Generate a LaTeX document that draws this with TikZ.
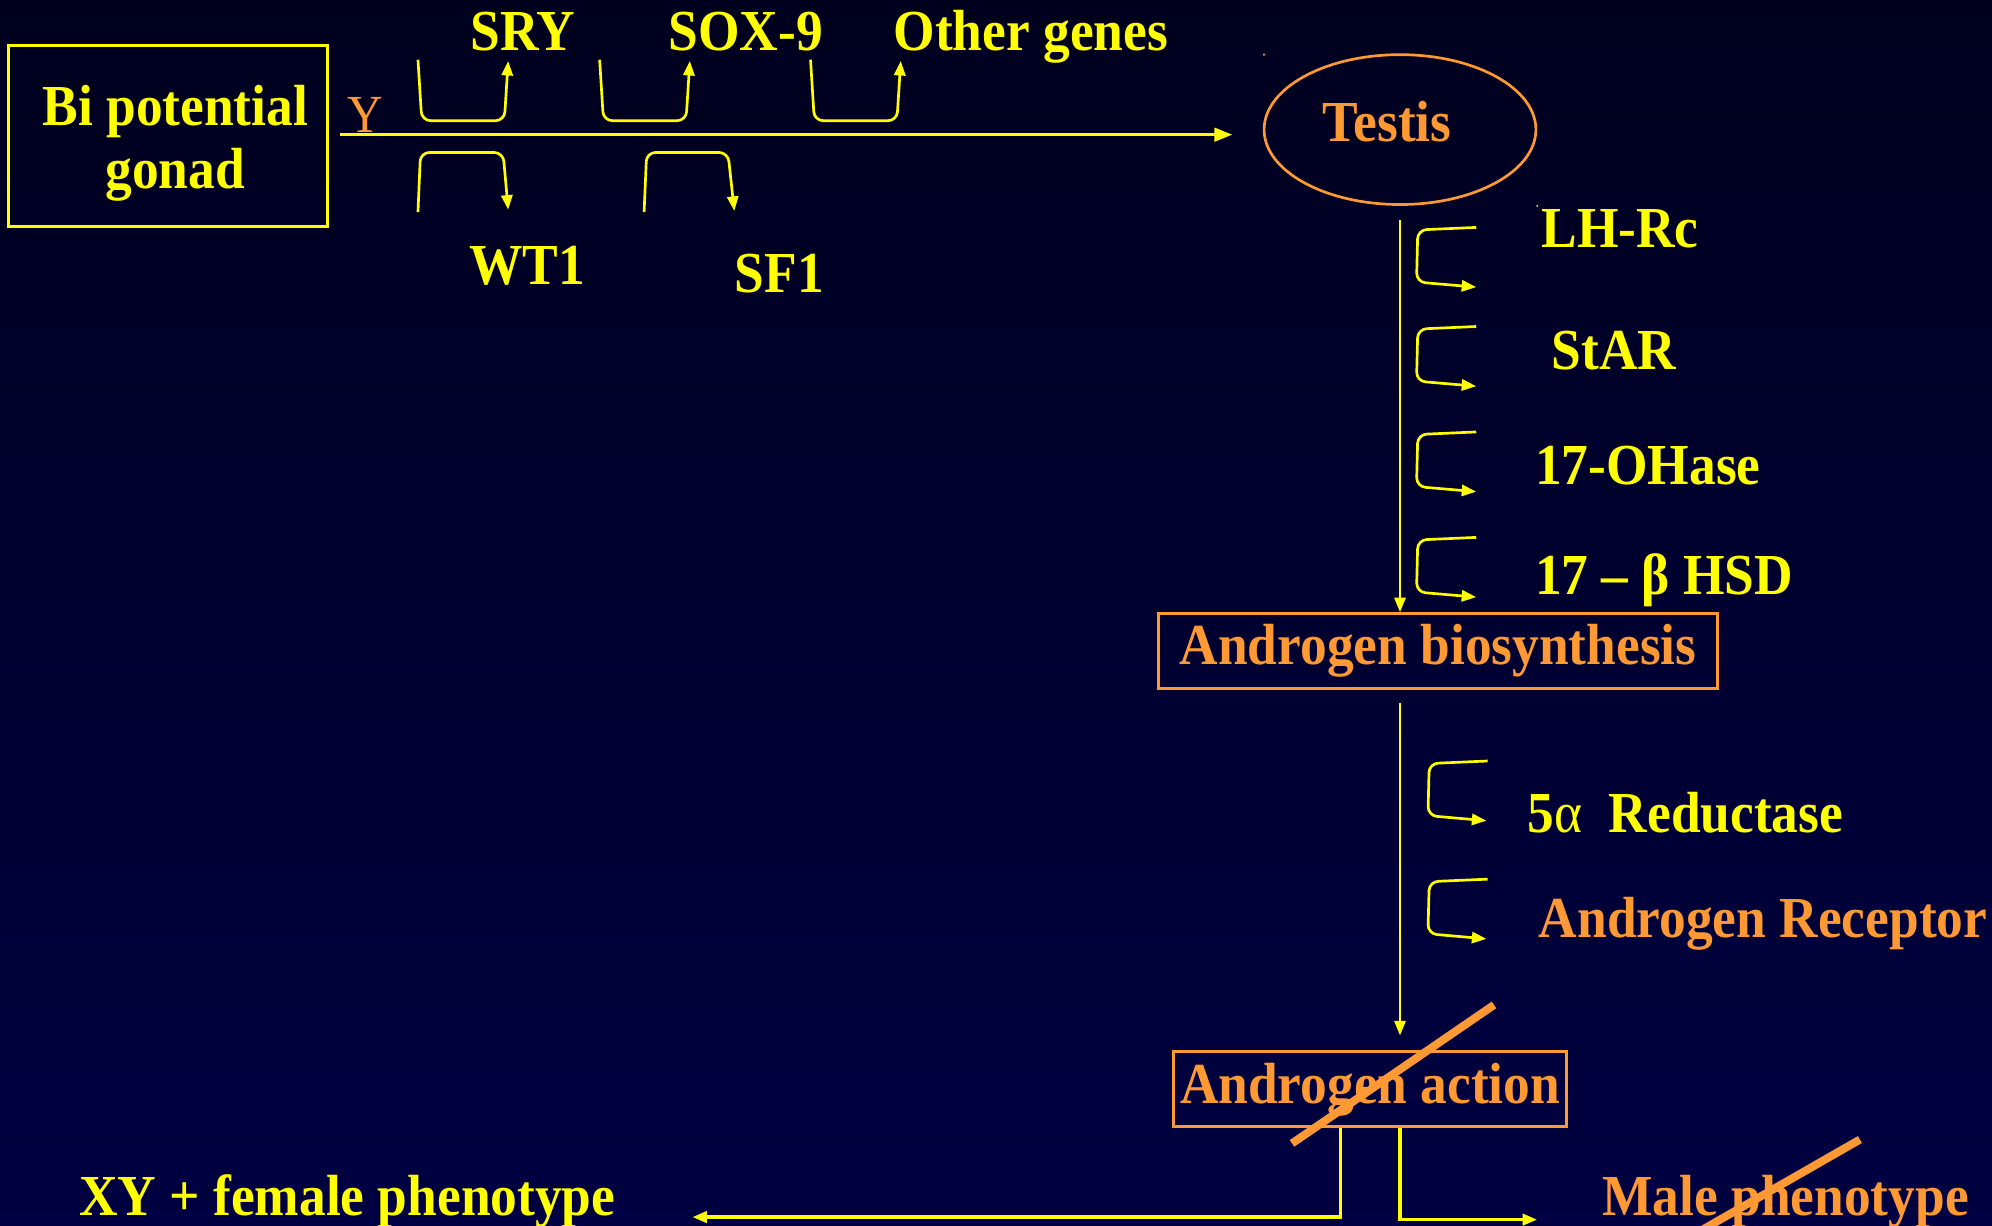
\documentclass[tikz,border=0pt]{standalone}
\usepackage{fontspec}
\setmainfont[FakeStretch=0.92]{Liberation Serif}
\usetikzlibrary{arrows.meta,shapes.geometric}
\definecolor{bgtop}{HTML}{00001E}
\definecolor{bgbot}{HTML}{000042}
\definecolor{yl}{HTML}{FFFF00}
\definecolor{org}{HTML}{FF9933}
\begin{document}
\begin{tikzpicture}[x=0.02cm,y=-0.02cm,
  lbl/.style={font=\bfseries\fontsize{26}{28}\selectfont, text=yl, inner sep=0pt},
  olbl/.style={lbl, text=org},
  conn/.style={draw=yl, line width=1.1pt, -{Triangle[length=6.5pt,width=5pt]}},
  brk/.style={conn, line width=1.2pt, rounded corners=4pt},
  obox/.style={draw=org, line width=1.3pt, inner sep=0pt},
  strike/.style={draw=org, line width=3.6pt}]
\shade[top color=bgtop,bottom color=bgbot] (0,0) rectangle (1568,965);
\useasboundingbox (0,0) rectangle (1568,965);

% Bi potential gonad
\node[draw=yl, line width=1.3pt, minimum width=5.02cm, minimum height=2.84cm, inner sep=0pt] (gonad) at (132.5,107) {};
\node[lbl, anchor=base] (gonadl1) at (138,99) {Bi potential};
\node[lbl, anchor=base] (gonadl2) at (138,148) {gonad};
\node[text=org, font=\fontsize{24}{26}\selectfont, anchor=base west, inner sep=0pt] (ylab) at (273,104) {Y};

% main horizontal arrow
\coordinate (hs) at (268,106);
\coordinate (he) at (970,106);
\draw[conn, line width=1.4pt, -{Triangle[length=8pt,width=6pt]}] (hs) -- (he);

% upper gene brackets
\draw[brk] (329,47) -- (332,95) -- (397,95) -- (400,48);
\draw[brk] (472,47) -- (475,95) -- (540,95) -- (543,48);
\draw[brk] (638,47) -- (641,95) -- (706,95) -- (709,48);
\node[lbl, anchor=base west] (sry) at (370,40) {SRY};
\node[lbl, anchor=base west] (sox) at (526,40) {SOX-9};
\node[lbl, anchor=base west] (oth) at (703,40) {Other genes};

% lower gene brackets
\draw[brk] (329,167) -- (331,120) -- (396,120) -- (400,165);
\draw[brk] (507,167) -- (509,120) -- (573,120) -- (578,166);
\node[lbl, anchor=base west] (wt1) at (369,224) {WT1};
\node[lbl, anchor=base west] (sf1) at (578,230) {SF1};

% Testis
\node[draw=org, line width=1.2pt, ellipse, minimum width=4.28cm, minimum height=2.36cm] (testis) at (1102,102) {};
\node[olbl, anchor=base west] (testistxt) at (1041,111) {Testis};
\fill[org] (995,43) circle (1);
\fill[yl!70!white] (1210,162) circle (0.8);

% Androgen biosynthesis
\node[obox, olbl, minimum width=8.8cm, minimum height=1.18cm] (ab) at (1132,512.5) {Androgen biosynthesis};
\coordinate (v1s) at (1102,173);
\draw[conn] (v1s) -- (v1s |- ab.north);

\foreach \t in {179,257,340,423}{
  \draw[brk] (1162,\t) -- (1116,\t+2) -- (1115,\t+43) -- (1162,\t+47);
}
\node[lbl, anchor=base west] (lhrc) at (1213,195) {LH-Rc};
\node[lbl, anchor=base west] (star) at (1221,291) {StAR};
\node[lbl, anchor=base west] (ohase) at (1208,381) {17-OHase};
\node[lbl, anchor=base west] (hsd) at (1208,468) {17 – β HSD};

% Androgen action
\node[obox, olbl, minimum width=6.18cm, minimum height=1.18cm] (aa) at (1078.5,857.5) {Androgen action};
\coordinate (v2s) at (1102,553);
\coordinate (v2e) at (1102,815);
\draw[conn] (v2s) -- (v2e);

\foreach \t in {599,692}{
  \draw[brk] (1171,\t) -- (1125,\t+2) -- (1124,\t+43) -- (1170,\t+47);
}
\node[lbl, anchor=base west] (red) at (1202,655) {5{\mdseries α}\ \ Reductase};
\node[olbl, anchor=base west] (ar) at (1211,738) {Androgen Receptor};

\draw[strike] (1017,900) -- (1176,791);

% outcomes
\coordinate (fx) at (1055,0);
\coordinate (mx) at (1102,0);
\coordinate (fe) at (545,958);
\coordinate (me) at (1210,960);
\draw[conn, line width=1.5pt] (aa.south -| fx) |- (fe);
\draw[conn, line width=1.5pt] (aa.south -| mx) |- (me);
\node[lbl, anchor=base west] (fem) at (62,957) {XY + female phenotype};
\node[olbl, anchor=base west] (male) at (1261,957) {Male phenotype};
\draw[strike] (1340,968) -- (1464,897);
\end{tikzpicture}
\end{document}
